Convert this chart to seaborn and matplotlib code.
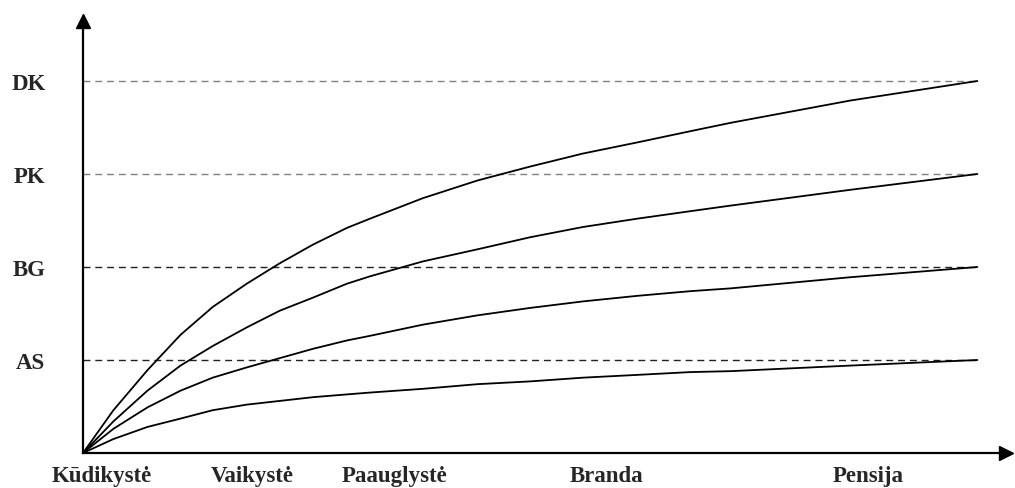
import matplotlib
matplotlib.use("Agg")
import matplotlib.pyplot as plt
import numpy as np
import pandas as pd
import seaborn as sns

# levels on the vertical axis
level_names = ["AS", "BG", "PK", "DK"]
level_values = [1, 2, 3, 4]

# life stages on the horizontal axis
stage_names = ["Kūdikystė", "Vaikystė", "Paauglystė", "Branda", "Pensija"]
stage_pos = [2.1, 18.9, 34.8, 58.5, 87.8]

# curves (x = life span 0..100, y = level)
life_x = [0, 3.4, 7.2, 10.9, 14.5, 18.3, 22.0, 25.7, 29.5, 32.1,
          38.0, 44.1, 50.0, 55.9, 62.0, 67.9, 72.4, 85.8, 100]

dk_y = [0, 0.46, 0.89, 1.27, 1.57, 1.82, 2.04, 2.24, 2.42, 2.52,
        2.74, 2.93, 3.08, 3.22, 3.34, 3.46, 3.55, 3.79, 4.0]
pk_y = [0, 0.34, 0.67, 0.94, 1.15, 1.35, 1.53, 1.67, 1.82, 1.90,
        2.06, 2.19, 2.32, 2.43, 2.52, 2.60, 2.66, 2.83, 3.0]
bg_y = [0, 0.26, 0.49, 0.67, 0.81, 0.92, 1.02, 1.12, 1.21, 1.26,
        1.38, 1.48, 1.56, 1.63, 1.69, 1.74, 1.77, 1.89, 2.0]
as_y = [0, 0.15, 0.28, 0.37, 0.46, 0.52, 0.56, 0.60, 0.63, 0.65,
        0.69, 0.74, 0.77, 0.81, 0.84, 0.87, 0.88, 0.94, 1.0]

curves = pd.concat([
    pd.DataFrame({"x": life_x, "y": dk_y, "level": "DK"}),
    pd.DataFrame({"x": life_x, "y": pk_y, "level": "PK"}),
    pd.DataFrame({"x": life_x, "y": bg_y, "level": "BG"}),
    pd.DataFrame({"x": life_x, "y": as_y, "level": "AS"}),
])

sns.set_style("white")
plt.rcParams["font.family"] = ["Liberation Serif", "DejaVu Serif"]

fig = plt.figure(figsize=(10.15, 4.89), dpi=100)
ax = fig.add_axes([83 / 1015, 35 / 489, 923 / 1015, 432 / 489])

# dashed reference levels
dash_cols = ["#222222", "#222222", "#808080", "#808080"]
for lv, col in zip(level_values, dash_cols):
    ax.plot([0, 100], [lv, lv], color=col, lw=1.0, dashes=(5, 3.5), zorder=1)

sns.lineplot(data=curves, x="x", y="y", hue="level",
             palette={"DK": "black", "PK": "black", "BG": "black", "AS": "black"},
             estimator=None, sort=False, lw=1.3, legend=False, ax=ax, zorder=3)

ax.set_xlim(0, 103.2)
ax.set_ylim(0, 4.645)

for side in ["top", "right"]:
    ax.spines[side].set_visible(False)
for side in ["left", "bottom"]:
    ax.spines[side].set_color("black")
    ax.spines[side].set_linewidth(1.6)

# arrow heads on the axes
ax.plot(1, 0, ">k", ms=10, transform=ax.get_yaxis_transform(), clip_on=False)
ax.plot(0, 1, "^k", ms=10, transform=ax.get_xaxis_transform(), clip_on=False)

ax.set_yticks(level_values, level_names)
ax.set_xticks(stage_pos, stage_names)
ax.tick_params(axis="y", length=0, pad=27, labelsize=16.5)
ax.tick_params(axis="x", length=0, pad=9, labelsize=16.5)
for lab in ax.get_xticklabels() + ax.get_yticklabels():
    lab.set_fontweight("bold")
ax.set_xlabel("")
ax.set_ylabel("")

fig.savefig("out.png", dpi=100)
